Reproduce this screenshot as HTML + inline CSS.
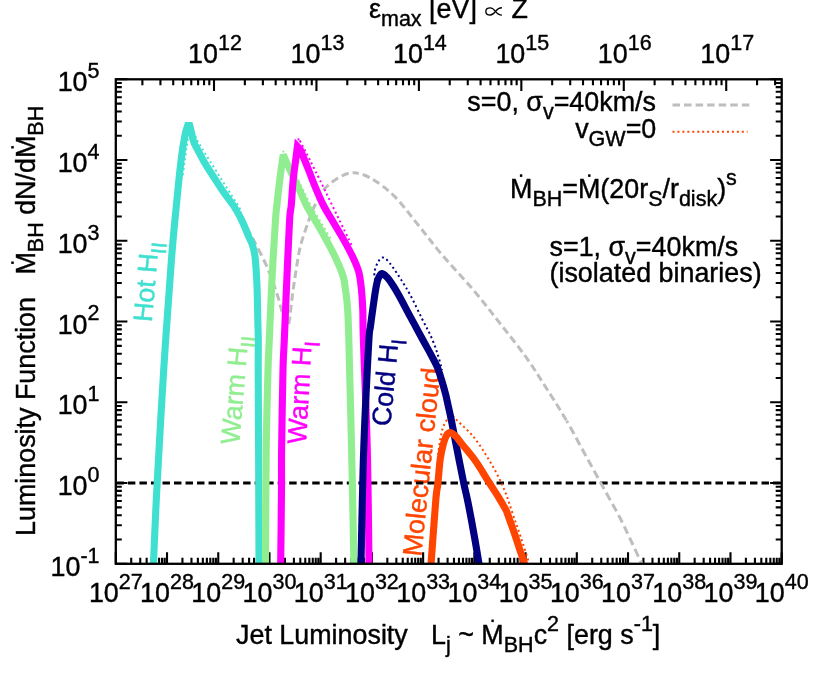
<!DOCTYPE html>
<html><head><meta charset="utf-8"><title>chart</title>
<style>html,body{margin:0;padding:0;background:#fff;width:830px;height:677px;overflow:hidden}</style>
</head><body>
<svg width="830" height="677" viewBox="0 0 830 677" style="display:block;position:absolute;left:0;top:0;will-change:transform" font-family='"Liberation Sans", sans-serif' font-size="26.88" fill="#000">
<rect width="830" height="677" fill="#fff"/>
<defs><clipPath id="cp"><rect x="115.80" y="79.30" width="665.90" height="484.50"/></clipPath></defs>
<path d="M115.80 563.80 v-11.60 M131.22 563.80 v-6.00 M140.24 563.80 v-6.00 M146.64 563.80 v-6.00 M151.60 563.80 v-6.00 M155.66 563.80 v-6.00 M159.09 563.80 v-6.00 M162.06 563.80 v-6.00 M164.68 563.80 v-6.00 M167.02 563.80 v-11.60 M182.44 563.80 v-6.00 M191.46 563.80 v-6.00 M197.86 563.80 v-6.00 M202.83 563.80 v-6.00 M206.88 563.80 v-6.00 M210.31 563.80 v-6.00 M213.28 563.80 v-6.00 M215.90 563.80 v-6.00 M218.25 563.80 v-11.60 M233.67 563.80 v-6.00 M242.69 563.80 v-6.00 M249.09 563.80 v-6.00 M254.05 563.80 v-6.00 M258.11 563.80 v-6.00 M261.53 563.80 v-6.00 M264.51 563.80 v-6.00 M267.13 563.80 v-6.00 M269.47 563.80 v-11.60 M284.89 563.80 v-6.00 M293.91 563.80 v-6.00 M300.31 563.80 v-6.00 M305.27 563.80 v-6.00 M309.33 563.80 v-6.00 M312.76 563.80 v-6.00 M315.73 563.80 v-6.00 M318.35 563.80 v-6.00 M320.69 563.80 v-11.60 M336.11 563.80 v-6.00 M345.13 563.80 v-6.00 M351.53 563.80 v-6.00 M356.50 563.80 v-6.00 M360.55 563.80 v-6.00 M363.98 563.80 v-6.00 M366.95 563.80 v-6.00 M369.57 563.80 v-6.00 M371.92 563.80 v-11.60 M387.34 563.80 v-6.00 M396.36 563.80 v-6.00 M402.75 563.80 v-6.00 M407.72 563.80 v-6.00 M411.77 563.80 v-6.00 M415.20 563.80 v-6.00 M418.17 563.80 v-6.00 M420.79 563.80 v-6.00 M423.14 563.80 v-11.60 M438.56 563.80 v-6.00 M447.58 563.80 v-6.00 M453.98 563.80 v-6.00 M458.94 563.80 v-6.00 M463.00 563.80 v-6.00 M466.43 563.80 v-6.00 M469.40 563.80 v-6.00 M472.02 563.80 v-6.00 M474.36 563.80 v-11.60 M489.78 563.80 v-6.00 M498.80 563.80 v-6.00 M505.20 563.80 v-6.00 M510.16 563.80 v-6.00 M514.22 563.80 v-6.00 M517.65 563.80 v-6.00 M520.62 563.80 v-6.00 M523.24 563.80 v-6.00 M525.58 563.80 v-11.60 M541.00 563.80 v-6.00 M550.02 563.80 v-6.00 M556.42 563.80 v-6.00 M561.39 563.80 v-6.00 M565.44 563.80 v-6.00 M568.87 563.80 v-6.00 M571.84 563.80 v-6.00 M574.46 563.80 v-6.00 M576.81 563.80 v-11.60 M592.23 563.80 v-6.00 M601.25 563.80 v-6.00 M607.65 563.80 v-6.00 M612.61 563.80 v-6.00 M616.67 563.80 v-6.00 M620.10 563.80 v-6.00 M623.07 563.80 v-6.00 M625.69 563.80 v-6.00 M628.03 563.80 v-11.60 M643.45 563.80 v-6.00 M652.47 563.80 v-6.00 M658.87 563.80 v-6.00 M663.83 563.80 v-6.00 M667.89 563.80 v-6.00 M671.32 563.80 v-6.00 M674.29 563.80 v-6.00 M676.91 563.80 v-6.00 M679.25 563.80 v-11.60 M694.67 563.80 v-6.00 M703.69 563.80 v-6.00 M710.09 563.80 v-6.00 M715.06 563.80 v-6.00 M719.11 563.80 v-6.00 M722.54 563.80 v-6.00 M725.51 563.80 v-6.00 M728.13 563.80 v-6.00 M730.48 563.80 v-11.60 M745.90 563.80 v-6.00 M754.92 563.80 v-6.00 M761.32 563.80 v-6.00 M766.28 563.80 v-6.00 M770.34 563.80 v-6.00 M773.77 563.80 v-6.00 M776.74 563.80 v-6.00 M779.36 563.80 v-6.00 M781.70 563.80 v-11.60 M142.39 79.30 v6.00 M160.43 79.30 v6.00 M173.23 79.30 v6.00 M183.16 79.30 v6.00 M191.27 79.30 v6.00 M198.13 79.30 v6.00 M204.07 79.30 v6.00 M209.31 79.30 v6.00 M214.00 79.30 v11.60 M244.84 79.30 v6.00 M262.88 79.30 v6.00 M275.68 79.30 v6.00 M285.61 79.30 v6.00 M293.72 79.30 v6.00 M300.58 79.30 v6.00 M306.52 79.30 v6.00 M311.76 79.30 v6.00 M316.45 79.30 v11.60 M347.29 79.30 v6.00 M365.33 79.30 v6.00 M378.12 79.30 v6.00 M388.05 79.30 v6.00 M396.16 79.30 v6.00 M403.02 79.30 v6.00 M408.96 79.30 v6.00 M414.20 79.30 v6.00 M418.89 79.30 v11.60 M449.73 79.30 v6.00 M467.77 79.30 v6.00 M480.57 79.30 v6.00 M490.50 79.30 v6.00 M498.61 79.30 v6.00 M505.47 79.30 v6.00 M511.41 79.30 v6.00 M516.65 79.30 v6.00 M521.34 79.30 v11.60 M552.18 79.30 v6.00 M570.22 79.30 v6.00 M583.02 79.30 v6.00 M592.95 79.30 v6.00 M601.06 79.30 v6.00 M607.92 79.30 v6.00 M613.86 79.30 v6.00 M619.10 79.30 v6.00 M623.78 79.30 v11.60 M654.62 79.30 v6.00 M672.66 79.30 v6.00 M685.46 79.30 v6.00 M695.39 79.30 v6.00 M703.50 79.30 v6.00 M710.36 79.30 v6.00 M716.30 79.30 v6.00 M721.54 79.30 v6.00 M726.23 79.30 v11.60 M757.07 79.30 v6.00 M775.11 79.30 v6.00 M115.80 563.80 h11.60 M781.70 563.80 h-11.60 M115.80 539.49 h6.00 M781.70 539.49 h-6.00 M115.80 525.27 h6.00 M781.70 525.27 h-6.00 M115.80 515.18 h6.00 M781.70 515.18 h-6.00 M115.80 507.36 h6.00 M781.70 507.36 h-6.00 M115.80 500.96 h6.00 M781.70 500.96 h-6.00 M115.80 495.56 h6.00 M781.70 495.56 h-6.00 M115.80 490.88 h6.00 M781.70 490.88 h-6.00 M115.80 486.74 h6.00 M781.70 486.74 h-6.00 M115.80 483.05 h11.60 M781.70 483.05 h-11.60 M115.80 458.74 h6.00 M781.70 458.74 h-6.00 M115.80 444.52 h6.00 M781.70 444.52 h-6.00 M115.80 434.43 h6.00 M781.70 434.43 h-6.00 M115.80 426.61 h6.00 M781.70 426.61 h-6.00 M115.80 420.21 h6.00 M781.70 420.21 h-6.00 M115.80 414.81 h6.00 M781.70 414.81 h-6.00 M115.80 410.13 h6.00 M781.70 410.13 h-6.00 M115.80 405.99 h6.00 M781.70 405.99 h-6.00 M115.80 402.30 h11.60 M781.70 402.30 h-11.60 M115.80 377.99 h6.00 M781.70 377.99 h-6.00 M115.80 363.77 h6.00 M781.70 363.77 h-6.00 M115.80 353.68 h6.00 M781.70 353.68 h-6.00 M115.80 345.86 h6.00 M781.70 345.86 h-6.00 M115.80 339.46 h6.00 M781.70 339.46 h-6.00 M115.80 334.06 h6.00 M781.70 334.06 h-6.00 M115.80 329.38 h6.00 M781.70 329.38 h-6.00 M115.80 325.24 h6.00 M781.70 325.24 h-6.00 M115.80 321.55 h11.60 M781.70 321.55 h-11.60 M115.80 297.24 h6.00 M781.70 297.24 h-6.00 M115.80 283.02 h6.00 M781.70 283.02 h-6.00 M115.80 272.93 h6.00 M781.70 272.93 h-6.00 M115.80 265.11 h6.00 M781.70 265.11 h-6.00 M115.80 258.71 h6.00 M781.70 258.71 h-6.00 M115.80 253.31 h6.00 M781.70 253.31 h-6.00 M115.80 248.63 h6.00 M781.70 248.63 h-6.00 M115.80 244.49 h6.00 M781.70 244.49 h-6.00 M115.80 240.80 h11.60 M781.70 240.80 h-11.60 M115.80 216.49 h6.00 M781.70 216.49 h-6.00 M115.80 202.27 h6.00 M781.70 202.27 h-6.00 M115.80 192.18 h6.00 M781.70 192.18 h-6.00 M115.80 184.36 h6.00 M781.70 184.36 h-6.00 M115.80 177.96 h6.00 M781.70 177.96 h-6.00 M115.80 172.56 h6.00 M781.70 172.56 h-6.00 M115.80 167.88 h6.00 M781.70 167.88 h-6.00 M115.80 163.74 h6.00 M781.70 163.74 h-6.00 M115.80 160.05 h11.60 M781.70 160.05 h-11.60 M115.80 135.74 h6.00 M781.70 135.74 h-6.00 M115.80 121.52 h6.00 M781.70 121.52 h-6.00 M115.80 111.43 h6.00 M781.70 111.43 h-6.00 M115.80 103.61 h6.00 M781.70 103.61 h-6.00 M115.80 97.21 h6.00 M781.70 97.21 h-6.00 M115.80 91.81 h6.00 M781.70 91.81 h-6.00 M115.80 87.13 h6.00 M781.70 87.13 h-6.00 M115.80 82.99 h6.00 M781.70 82.99 h-6.00 M115.80 79.30 h11.60 M781.70 79.30 h-11.60" stroke="#000" stroke-width="2.1" fill="none"/>
<text stroke="#40E0D0" stroke-width="0.4" transform="translate(151.8,322.5) rotate(-85)" fill="#40E0D0">Hot H<tspan dy="8.00" font-size="21.50">II</tspan></text>
<text stroke="#90EE90" stroke-width="0.4" transform="translate(239.2,445) rotate(-85.1)" fill="#90EE90">Warm H<tspan dy="8.00" font-size="21.50">II</tspan></text>
<text stroke="#FF00FF" stroke-width="0.4" transform="translate(306.0,444.5) rotate(-86.8)" fill="#FF00FF">Warm H<tspan dy="8.00" font-size="21.50">I</tspan></text>
<text stroke="#000080" stroke-width="0.4" transform="translate(390.3,426.8) rotate(-84.6)" fill="#000080">Cold H<tspan dy="8.00" font-size="21.50">I</tspan></text>
<text stroke="#FF4500" stroke-width="0.4" transform="translate(421.2,557) rotate(-84.15)" fill="#FF4500" font-size="27">Molecular cloud</text>
<g clip-path="url(#cp)" fill="none" stroke-linejoin="miter" stroke-miterlimit="2.5">
<path d="M115.80 483.05 H781.70" stroke="#000" stroke-width="3" stroke-dasharray="7.45 4.07" stroke-dashoffset="-0.6"/>
<path d="M241.00 217.00 C243.05 220.75 248.88 231.02 253.30 239.50 C257.72 247.98 263.52 258.73 267.50 267.90 C271.48 277.07 274.83 287.42 277.20 294.50 C279.57 301.58 280.07 304.82 281.70 310.40 C283.33 315.98 286.12 325.07 287.00 328.00" stroke="#BEBEBE" stroke-width="3" stroke-dasharray="7.90 4.20" stroke-dashoffset="0.45"/>
<path d="M287.00 328.00 C287.38 326.83 288.42 326.33 289.30 321.00 C290.18 315.67 291.20 304.27 292.30 296.00 C293.40 287.73 294.57 279.63 295.90 271.40 C297.23 263.17 298.23 254.87 300.30 246.60 C302.37 238.33 305.85 228.73 308.30 221.80 C310.75 214.87 312.30 210.50 315.00 205.00 C317.70 199.50 320.45 193.42 324.50 188.80 C328.55 184.18 334.38 179.97 339.30 177.30 C344.22 174.63 348.58 172.55 354.00 172.80" stroke="#BEBEBE" stroke-width="3" stroke-dasharray="7.60 4.02" stroke-dashoffset="7.25"/>
<path d="M354.00 172.80 C359.42 173.05 365.03 174.87 371.80 178.80 C378.57 182.73 386.87 188.70 394.60 196.40 C402.33 204.10 410.33 215.32 418.20 225.00 C426.07 234.68 432.63 243.70 441.80 254.50 C450.97 265.30 463.53 278.37 473.20 289.80 C482.87 301.23 490.93 311.78 499.80 323.10 C508.67 334.42 518.53 346.68 526.40 357.70 C534.27 368.72 540.30 378.70 547.00 389.20 C553.70 399.70 560.52 410.32 566.60 420.70" stroke="#BEBEBE" stroke-width="3" stroke-dasharray="7.60 4.02" stroke-dashoffset="2.73"/>
<path d="M566.60 420.70 C572.68 431.08 577.78 441.08 583.50 451.50 C589.22 461.92 594.85 472.20 600.90 483.20 C606.95 494.20 614.87 508.08 619.80 517.50 C624.73 526.92 626.98 532.28 630.50 539.70 C634.02 547.12 638.82 557.53 640.90 562.00 C642.98 566.47 642.65 565.75 643.00 566.50" stroke="#BEBEBE" stroke-width="3" stroke-dasharray="8.30 4.30" stroke-dashoffset="5.78"/>
<path d="M183.00 175.00 C183.40 171.67 184.60 160.92 185.40 155.00 C186.20 149.08 186.98 144.67 187.80 139.50 C188.62 134.33 189.88 126.58 190.30 124.00 C191.17 126.08 193.62 132.53 195.50 136.50 C197.38 140.47 194.12 135.67 201.60 147.80 C209.08 159.93 233.93 199.05 240.40 209.30 L242.00 219.00" stroke="#40E0D0" stroke-width="2" stroke-dasharray="2 2.95"/>
<path d="M280.50 172.00 L283.40 150.80 C284.33 152.83 286.07 157.13 289.00 163.00 C291.93 168.87 297.58 179.33 301.00 186.00 C304.42 192.67 306.33 197.17 309.50 203.00 C312.67 208.83 316.50 215.08 320.00 221.00 C323.50 226.92 328.75 235.58 330.50 238.50" stroke="#90EE90" stroke-width="2" stroke-dasharray="2 2.95"/>
<path d="M295.50 165.00 C295.80 162.50 296.78 154.45 297.30 150.00 C297.82 145.55 298.38 140.25 298.60 138.30 C301.47 143.88 306.88 153.82 315.80 171.80 C324.72 189.78 346.05 233.80 352.10 246.20" stroke="#FF00FF" stroke-width="2" stroke-dasharray="2 2.95"/>
<path d="M376.20 290.00 C376.03 288.33 375.50 282.95 375.20 280.00 C374.90 277.05 374.02 275.13 374.40 272.30 C374.78 269.47 376.23 265.45 377.50 263.00 C378.77 260.55 380.42 258.10 382.00 257.60 C383.58 257.10 385.17 258.35 387.00 260.00 C388.83 261.65 390.67 264.25 393.00 267.50 C395.33 270.75 398.08 274.85 401.00 279.50 C403.92 284.15 407.00 288.87 410.50 295.40 C414.00 301.93 418.58 311.85 422.00 318.70 C425.42 325.55 428.40 330.62 431.00 336.50 C433.60 342.38 435.77 348.42 437.60 354.00 C439.43 359.58 441.27 367.33 442.00 370.00" stroke="#000080" stroke-width="2" stroke-dasharray="2 2.95"/>
<path d="M438.00 455.00 C438.42 452.17 439.50 443.00 440.50 438.00 C441.50 433.00 442.25 428.75 444.00 425.00 C445.75 421.25 448.90 416.33 451.00 415.50 C453.10 414.67 452.88 416.48 456.60 420.00 C460.32 423.52 468.12 430.32 473.30 436.60 C478.48 442.88 483.45 450.87 487.70 457.70 C491.95 464.53 495.67 471.32 498.80 477.60 C501.93 483.88 504.10 489.12 506.50 495.40 C508.90 501.68 510.80 508.28 513.20 515.30 C515.60 522.32 518.32 529.72 520.90 537.50 C523.48 545.28 527.18 556.58 528.70 562.00 C530.22 567.42 529.78 568.67 530.00 570.00" stroke="#FF4500" stroke-width="2" stroke-dasharray="2 2.95"/>
<path d="M153.00 570.00 C153.08 568.83 152.87 576.33 153.50 563.00 C154.13 549.67 155.10 522.17 156.80 490.00 C158.50 457.83 161.27 408.33 163.70 370.00 C166.13 331.67 169.10 289.33 171.40 260.00 C173.70 230.67 175.82 211.17 177.50 194.00 C179.18 176.83 180.22 167.00 181.50 157.00 C182.78 147.00 184.17 139.25 185.20 134.00 C186.23 128.75 187.28 126.92 187.70 125.50 L189.70 125.50 C189.95 126.42 190.55 128.32 191.20 131.00 C191.85 133.68 192.47 138.35 193.60 141.60 C194.73 144.85 196.15 146.95 198.00 150.50 C199.85 154.05 201.98 158.32 204.70 162.90 C207.42 167.48 211.05 172.98 214.30 178.00 C217.55 183.02 220.90 188.23 224.20 193.00 C227.50 197.77 231.42 202.55 234.10 206.60 C236.78 210.65 239.27 215.52 240.30 217.30 C240.90 218.58 242.48 221.75 243.90 225.00 C245.32 228.25 247.50 233.80 248.80 236.80 C250.10 239.80 250.87 240.80 251.70 243.00 C252.53 245.20 253.22 247.50 253.80 250.00 C254.38 252.50 254.78 254.28 255.20 258.00 C255.62 261.72 255.97 266.80 256.30 272.30 C256.63 277.80 256.95 283.05 257.20 291.00 C257.45 298.95 257.62 311.83 257.80 320.00 C257.98 328.17 258.23 331.67 258.30 340.00 C258.37 348.33 258.15 351.67 258.20 370.00 C258.25 388.33 258.47 417.83 258.60 450.00 C258.73 482.17 258.93 543.00 259.00 563.00 C259.07 583.00 259.00 568.83 259.00 570.00" stroke="#40E0D0" stroke-width="7.1"/>
<path d="M265.50 570.00 C265.50 568.83 265.38 583.00 265.50 563.00 C265.62 543.00 265.78 482.17 266.20 450.00 C266.62 417.83 267.48 388.33 268.00 370.00 C268.52 351.67 268.60 355.83 269.30 340.00 C270.00 324.17 271.17 295.00 272.20 275.00 C273.23 255.00 274.72 231.67 275.50 220.00 C276.28 208.33 276.15 212.00 276.90 205.00 C277.65 198.00 278.95 186.37 280.00 178.00 C281.05 169.63 282.67 158.67 283.20 154.80 C283.98 156.57 286.27 161.78 287.90 165.40 C289.53 169.02 291.23 172.78 293.00 176.50 C294.77 180.22 296.25 182.87 298.50 187.70 C300.75 192.53 303.45 199.58 306.50 205.50 C309.55 211.42 313.42 217.30 316.80 223.20 C320.18 229.10 323.60 234.98 326.80 240.90 C330.00 246.82 333.27 252.78 336.00 258.70 C338.73 264.62 341.62 271.18 343.20 276.40 C344.78 281.62 344.82 285.23 345.50 290.00 C346.18 294.77 346.77 297.50 347.30 305.00 C347.83 312.50 347.98 310.83 348.70 335.00 C349.42 359.17 350.73 412.00 351.60 450.00 C352.47 488.00 353.50 543.00 353.90 563.00 C354.30 583.00 353.98 568.83 354.00 570.00" stroke="#90EE90" stroke-width="7.1"/>
<path d="M280.70 570.00 C280.70 568.83 280.57 576.33 280.70 563.00 C280.83 549.67 281.35 508.83 281.50 490.00 C281.65 471.17 281.35 470.00 281.60 450.00 C281.85 430.00 282.55 388.33 283.00 370.00 C283.45 351.67 283.67 355.00 284.30 340.00 C284.93 325.00 285.92 300.00 286.80 280.00 C287.68 260.00 288.85 232.50 289.60 220.00 C290.35 207.50 290.72 211.57 291.30 205.00 C291.88 198.43 292.37 188.10 293.10 180.60 C293.83 173.10 294.98 165.70 295.70 160.00 C296.42 154.30 297.12 148.67 297.40 146.40 L300.30 149.50 C301.68 152.92 306.07 163.63 308.60 170.00 C311.13 176.37 313.02 181.78 315.50 187.70 C317.98 193.62 320.43 199.58 323.50 205.50 C326.57 211.42 330.43 217.30 333.90 223.20 C337.37 229.10 341.02 234.98 344.30 240.90 C347.58 246.82 351.15 253.38 353.60 258.70 C356.05 264.02 357.68 267.58 359.00 272.80 C360.32 278.02 360.87 283.80 361.50 290.00 C362.13 296.20 362.48 301.67 362.80 310.00 C363.12 318.33 362.65 316.67 363.40 340.00 C364.15 363.33 366.37 412.83 367.30 450.00 C368.23 487.17 368.72 543.00 369.00 563.00 C369.28 583.00 369.00 568.83 369.00 570.00" stroke="#FF00FF" stroke-width="7.1"/>
<path d="M360.80 570.00 C360.83 568.83 360.52 583.00 361.00 563.00 C361.48 543.00 362.43 486.33 363.70 450.00 C364.97 413.67 367.47 365.63 368.60 345.00 C369.73 324.37 369.68 333.02 370.50 326.20 C371.32 319.38 372.63 310.25 373.50 304.10 C374.37 297.95 374.97 293.40 375.70 289.30 C376.43 285.20 376.92 282.12 377.90 279.50 C378.88 276.88 380.12 274.02 381.60 273.60 C383.08 273.18 385.08 275.30 386.80 277.00 C388.52 278.70 389.92 280.80 391.90 283.80 C393.88 286.80 395.60 289.45 398.70 295.00 C401.80 300.55 406.53 309.72 410.50 317.10 C414.47 324.48 418.98 332.85 422.50 339.30 C426.02 345.75 429.15 351.20 431.60 355.80 C434.05 360.40 435.57 362.97 437.20 366.90 C438.83 370.83 440.00 374.85 441.40 379.40 C442.80 383.95 444.40 389.52 445.60 394.20 C446.80 398.88 447.65 403.20 448.60 407.50 C449.55 411.80 449.55 411.25 451.30 420.00 C453.05 428.75 457.02 449.42 459.10 460.00 C461.18 470.58 462.40 476.83 463.80 483.50 C465.20 490.17 466.23 493.92 467.50 500.00 C468.77 506.08 470.12 513.17 471.40 520.00 C472.68 526.83 473.95 533.83 475.20 541.00 C476.45 548.17 478.10 558.17 478.90 563.00 C479.70 567.83 479.82 568.83 480.00 570.00" stroke="#000080" stroke-width="7.1"/>
<path d="M430.60 570.00 C430.68 568.83 430.23 574.67 431.10 563.00 C431.97 551.33 434.67 513.25 435.80 500.00 C436.93 486.75 437.18 490.17 437.90 483.50 C438.62 476.83 439.20 466.55 440.10 460.00 C441.00 453.45 442.23 448.28 443.30 444.20 C444.37 440.12 445.33 437.43 446.50 435.50 C447.67 433.57 448.72 432.43 450.30 432.60 C451.88 432.77 454.02 434.53 456.00 436.50 C457.98 438.47 458.95 440.32 462.20 444.40 C465.45 448.48 471.07 454.73 475.50 461.00 C479.93 467.27 484.92 475.90 488.80 482.00 C492.68 488.10 495.85 492.77 498.80 497.60 C501.75 502.43 505.22 508.77 506.50 511.00 C507.80 514.67 511.90 526.00 514.30 533.00 C516.70 540.00 519.23 548.00 520.90 553.00 C522.57 558.00 523.45 560.17 524.30 563.00 C525.15 565.83 525.72 568.83 526.00 570.00" stroke="#FF4500" stroke-width="7.1"/>
</g>
<path d="M672.5 105 H749.5" stroke="#BEBEBE" stroke-width="3" stroke-dasharray="7.5 4.05" fill="none"/>
<path d="M672.5 131.8 H747.5" stroke="#FF4500" stroke-width="2" stroke-dasharray="2 2.95" fill="none"/>
<rect x="115.80" y="79.30" width="665.90" height="484.50" fill="none" stroke="#000" stroke-width="2.3"/>
<text stroke="#000" stroke-width="0.4" x="115.80" y="602" text-anchor="middle">10<tspan dy="-13.30" font-size="21.50">27</tspan></text>
<text stroke="#000" stroke-width="0.4" x="167.02" y="602" text-anchor="middle">10<tspan dy="-13.30" font-size="21.50">28</tspan></text>
<text stroke="#000" stroke-width="0.4" x="218.25" y="602" text-anchor="middle">10<tspan dy="-13.30" font-size="21.50">29</tspan></text>
<text stroke="#000" stroke-width="0.4" x="269.47" y="602" text-anchor="middle">10<tspan dy="-13.30" font-size="21.50">30</tspan></text>
<text stroke="#000" stroke-width="0.4" x="320.69" y="602" text-anchor="middle">10<tspan dy="-13.30" font-size="21.50">31</tspan></text>
<text stroke="#000" stroke-width="0.4" x="371.92" y="602" text-anchor="middle">10<tspan dy="-13.30" font-size="21.50">32</tspan></text>
<text stroke="#000" stroke-width="0.4" x="423.14" y="602" text-anchor="middle">10<tspan dy="-13.30" font-size="21.50">33</tspan></text>
<text stroke="#000" stroke-width="0.4" x="474.36" y="602" text-anchor="middle">10<tspan dy="-13.30" font-size="21.50">34</tspan></text>
<text stroke="#000" stroke-width="0.4" x="525.58" y="602" text-anchor="middle">10<tspan dy="-13.30" font-size="21.50">35</tspan></text>
<text stroke="#000" stroke-width="0.4" x="576.81" y="602" text-anchor="middle">10<tspan dy="-13.30" font-size="21.50">36</tspan></text>
<text stroke="#000" stroke-width="0.4" x="628.03" y="602" text-anchor="middle">10<tspan dy="-13.30" font-size="21.50">37</tspan></text>
<text stroke="#000" stroke-width="0.4" x="679.25" y="602" text-anchor="middle">10<tspan dy="-13.30" font-size="21.50">38</tspan></text>
<text stroke="#000" stroke-width="0.4" x="730.48" y="602" text-anchor="middle">10<tspan dy="-13.30" font-size="21.50">39</tspan></text>
<text stroke="#000" stroke-width="0.4" x="781.70" y="602" text-anchor="middle">10<tspan dy="-13.30" font-size="21.50">40</tspan></text>
<text stroke="#000" stroke-width="0.4" x="215.00" y="63" text-anchor="middle">10<tspan dy="-13.30" font-size="21.50">12</tspan></text>
<text stroke="#000" stroke-width="0.4" x="317.45" y="63" text-anchor="middle">10<tspan dy="-13.30" font-size="21.50">13</tspan></text>
<text stroke="#000" stroke-width="0.4" x="419.89" y="63" text-anchor="middle">10<tspan dy="-13.30" font-size="21.50">14</tspan></text>
<text stroke="#000" stroke-width="0.4" x="522.34" y="63" text-anchor="middle">10<tspan dy="-13.30" font-size="21.50">15</tspan></text>
<text stroke="#000" stroke-width="0.4" x="624.78" y="63" text-anchor="middle">10<tspan dy="-13.30" font-size="21.50">16</tspan></text>
<text stroke="#000" stroke-width="0.4" x="727.23" y="63" text-anchor="middle">10<tspan dy="-13.30" font-size="21.50">17</tspan></text>
<text stroke="#000" stroke-width="0.4" x="99.5" y="575.80" text-anchor="end">10<tspan dy="-13.30" font-size="21.50">-1</tspan></text>
<text stroke="#000" stroke-width="0.4" x="99.5" y="495.05" text-anchor="end">10<tspan dy="-13.30" font-size="21.50">0</tspan></text>
<text stroke="#000" stroke-width="0.4" x="99.5" y="414.30" text-anchor="end">10<tspan dy="-13.30" font-size="21.50">1</tspan></text>
<text stroke="#000" stroke-width="0.4" x="99.5" y="333.55" text-anchor="end">10<tspan dy="-13.30" font-size="21.50">2</tspan></text>
<text stroke="#000" stroke-width="0.4" x="99.5" y="252.80" text-anchor="end">10<tspan dy="-13.30" font-size="21.50">3</tspan></text>
<text stroke="#000" stroke-width="0.4" x="99.5" y="172.05" text-anchor="end">10<tspan dy="-13.30" font-size="21.50">4</tspan></text>
<text stroke="#000" stroke-width="0.4" x="99.5" y="91.30" text-anchor="end">10<tspan dy="-13.30" font-size="21.50">5</tspan></text>
<text stroke="#000" stroke-width="0.4" x="369" y="18.4">ε<tspan dy="8.00" font-size="21.50">max</tspan><tspan dy="-8.00"> [eV]</tspan></text>
<text stroke="#000" stroke-width="0.4" x="511.6" y="18.4">Z</text>
<path d="M501.9 7.7 C498.6 7.7 497 9.4 495.5 11.4 C494 13.4 492.6 15 490.3 15 C487.6 15 485.8 13.4 485.8 11.4 C485.8 9.4 487.6 7.8 490.3 7.8 C492.6 7.8 494 9.4 495.5 11.4 C497 13.4 498.6 15.1 501.9 15.1" fill="none" stroke="#000" stroke-width="1.35"/>
<text stroke="#000" stroke-width="0.4" x="236" y="644.3">Jet Luminosity</text>
<text stroke="#000" stroke-width="0.4" x="431" y="644.3">L<tspan dy="8.00" font-size="21.50">j</tspan><tspan dy="-8.00"> ~ M</tspan><tspan dy="8.00" font-size="21.50">BH</tspan><tspan dy="-8.00">c</tspan><tspan dy="-13.30" font-size="21.50">2</tspan><tspan dy="13.30"> [erg s</tspan><tspan dy="-13.30" font-size="21.50">-1</tspan><tspan dy="13.30">]</tspan></text>
<rect x="491.4" y="619.5" width="2.4" height="2.6"/>
<text stroke="#000" stroke-width="0.4" transform="translate(35,536.0) rotate(-90)" xml:space="preserve">Luminosity Function   M<tspan dy="8.00" font-size="21.50">BH</tspan><tspan dy="-8.00"> dN/dM</tspan><tspan dy="8.00" font-size="21.50">BH</tspan></text>
<rect x="11.2" y="261.5" width="2.6" height="2.4"/>
<rect x="11.2" y="146.1" width="2.6" height="2.4"/>
<text stroke="#000" stroke-width="0.4" x="656" y="111.3" text-anchor="end">s=0, σ<tspan dy="8.00" font-size="21.50">v</tspan><tspan dy="-8.00">=40km/s</tspan></text>
<text stroke="#000" stroke-width="0.4" x="656.3" y="137.8" text-anchor="end">v<tspan dy="8.00" font-size="21.50">GW</tspan><tspan dy="-8.00">=0</tspan></text>
<text stroke="#000" stroke-width="0.4" x="510" y="197.9">M<tspan dy="8.00" font-size="21.50">BH</tspan><tspan dy="-8.00">=M(20r</tspan><tspan dy="8.00" font-size="21.50">S</tspan><tspan dy="-8.00">/r</tspan><tspan dy="8.00" font-size="21.50">disk</tspan><tspan dy="-8.00">)</tspan><tspan dy="-13.30" font-size="21.50">s</tspan></text>
<rect x="519.9" y="174.3" width="2.4" height="2.6"/>
<rect x="588.1" y="174.3" width="2.4" height="2.6"/>
<text stroke="#000" stroke-width="0.4" x="549.5" y="255.5">s=1, σ<tspan dy="8.00" font-size="21.50">v</tspan><tspan dy="-8.00">=40km/s</tspan></text>
<text stroke="#000" stroke-width="0.4" x="549.5" y="281.9">(isolated binaries)</text>
</svg>
</body></html>
